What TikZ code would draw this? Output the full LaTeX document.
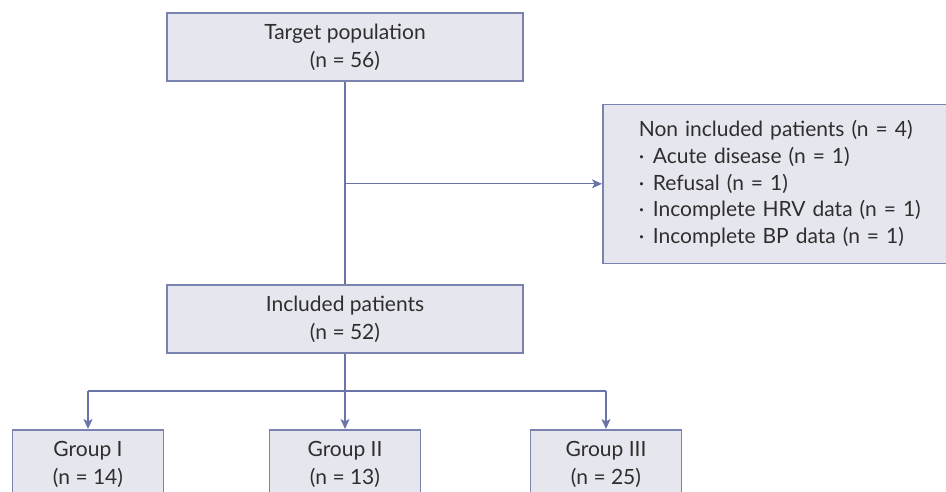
\documentclass[tikz,border=0pt]{standalone}
\usepackage{fontspec}
\setmainfont{Lato}
\usetikzlibrary{arrows.meta}
\definecolor{boxfill}{HTML}{E6E7EE}
\definecolor{edgecol}{HTML}{7A82B0}
\definecolor{linecol}{HTML}{6A74A8}
\definecolor{txtcol}{HTML}{2E2E2E}
\tikzset{
  flowbox/.style={draw=edgecol, line width=1.6pt, fill=boxfill, text=txtcol,
    align=center, inner sep=0pt, font=\fontsize{21}{28}\selectfont},
  conn/.style={draw=linecol, line width=1.3pt},
  arr/.style={conn, -{Stealth[length=10pt,width=9pt,inset=2.5pt]}}
}
\begin{document}
\begin{tikzpicture}[x=1pt,y=-1pt]
\useasboundingbox (0,0) rectangle (946,491);
\clip (0,0) rectangle (946,491);
\node[flowbox, minimum width=356pt, minimum height=68pt] (top) at (345,47) {Target population\\(n = 56)};
\node[flowbox, minimum width=356pt, minimum height=68pt] (incl) at (345,319) {Included patients\\(n = 52)};
\node[flowbox, anchor=north west, minimum height=159pt, text width=300pt, inner xsep=36pt, align=left,
  font=\fontsize{21}{26.7}\selectfont] (excl) at (602,103.5)
  {Non included patients (n = 4)\\
   \makebox[14pt][l]{·}Acute disease (n = 1)\\
   \makebox[14pt][l]{·}Refusal (n = 1)\\
   \makebox[14pt][l]{·}Incomplete HRV data (n = 1)\\
   \makebox[14pt][l]{·}Incomplete BP data (n = 1)};
\node[flowbox, anchor=north, minimum width=151pt, minimum height=70pt] (g1) at (88,429) {Group I\\(n = 14)};
\node[flowbox, anchor=north, minimum width=151pt, minimum height=70pt] (g2) at (345,429) {Group II\\(n = 13)};
\node[flowbox, anchor=north, minimum width=151pt, minimum height=70pt] (g3) at (606,429) {Group III\\(n = 25)};
\coordinate (hb) at (345,391);
\draw[conn] (top.south) -- (incl.north);
\draw[arr] (top.south |- excl.west) -- (excl.west);
\draw[conn] (incl.south) -- (hb);
\draw[conn] (g1.north |- hb) -- (g3.north |- hb);
\draw[arr] (g1.north |- hb) -- (g1.north);
\draw[arr] (hb) -- (g2.north);
\draw[arr] (g3.north |- hb) -- (g3.north);
\end{tikzpicture}
\end{document}
